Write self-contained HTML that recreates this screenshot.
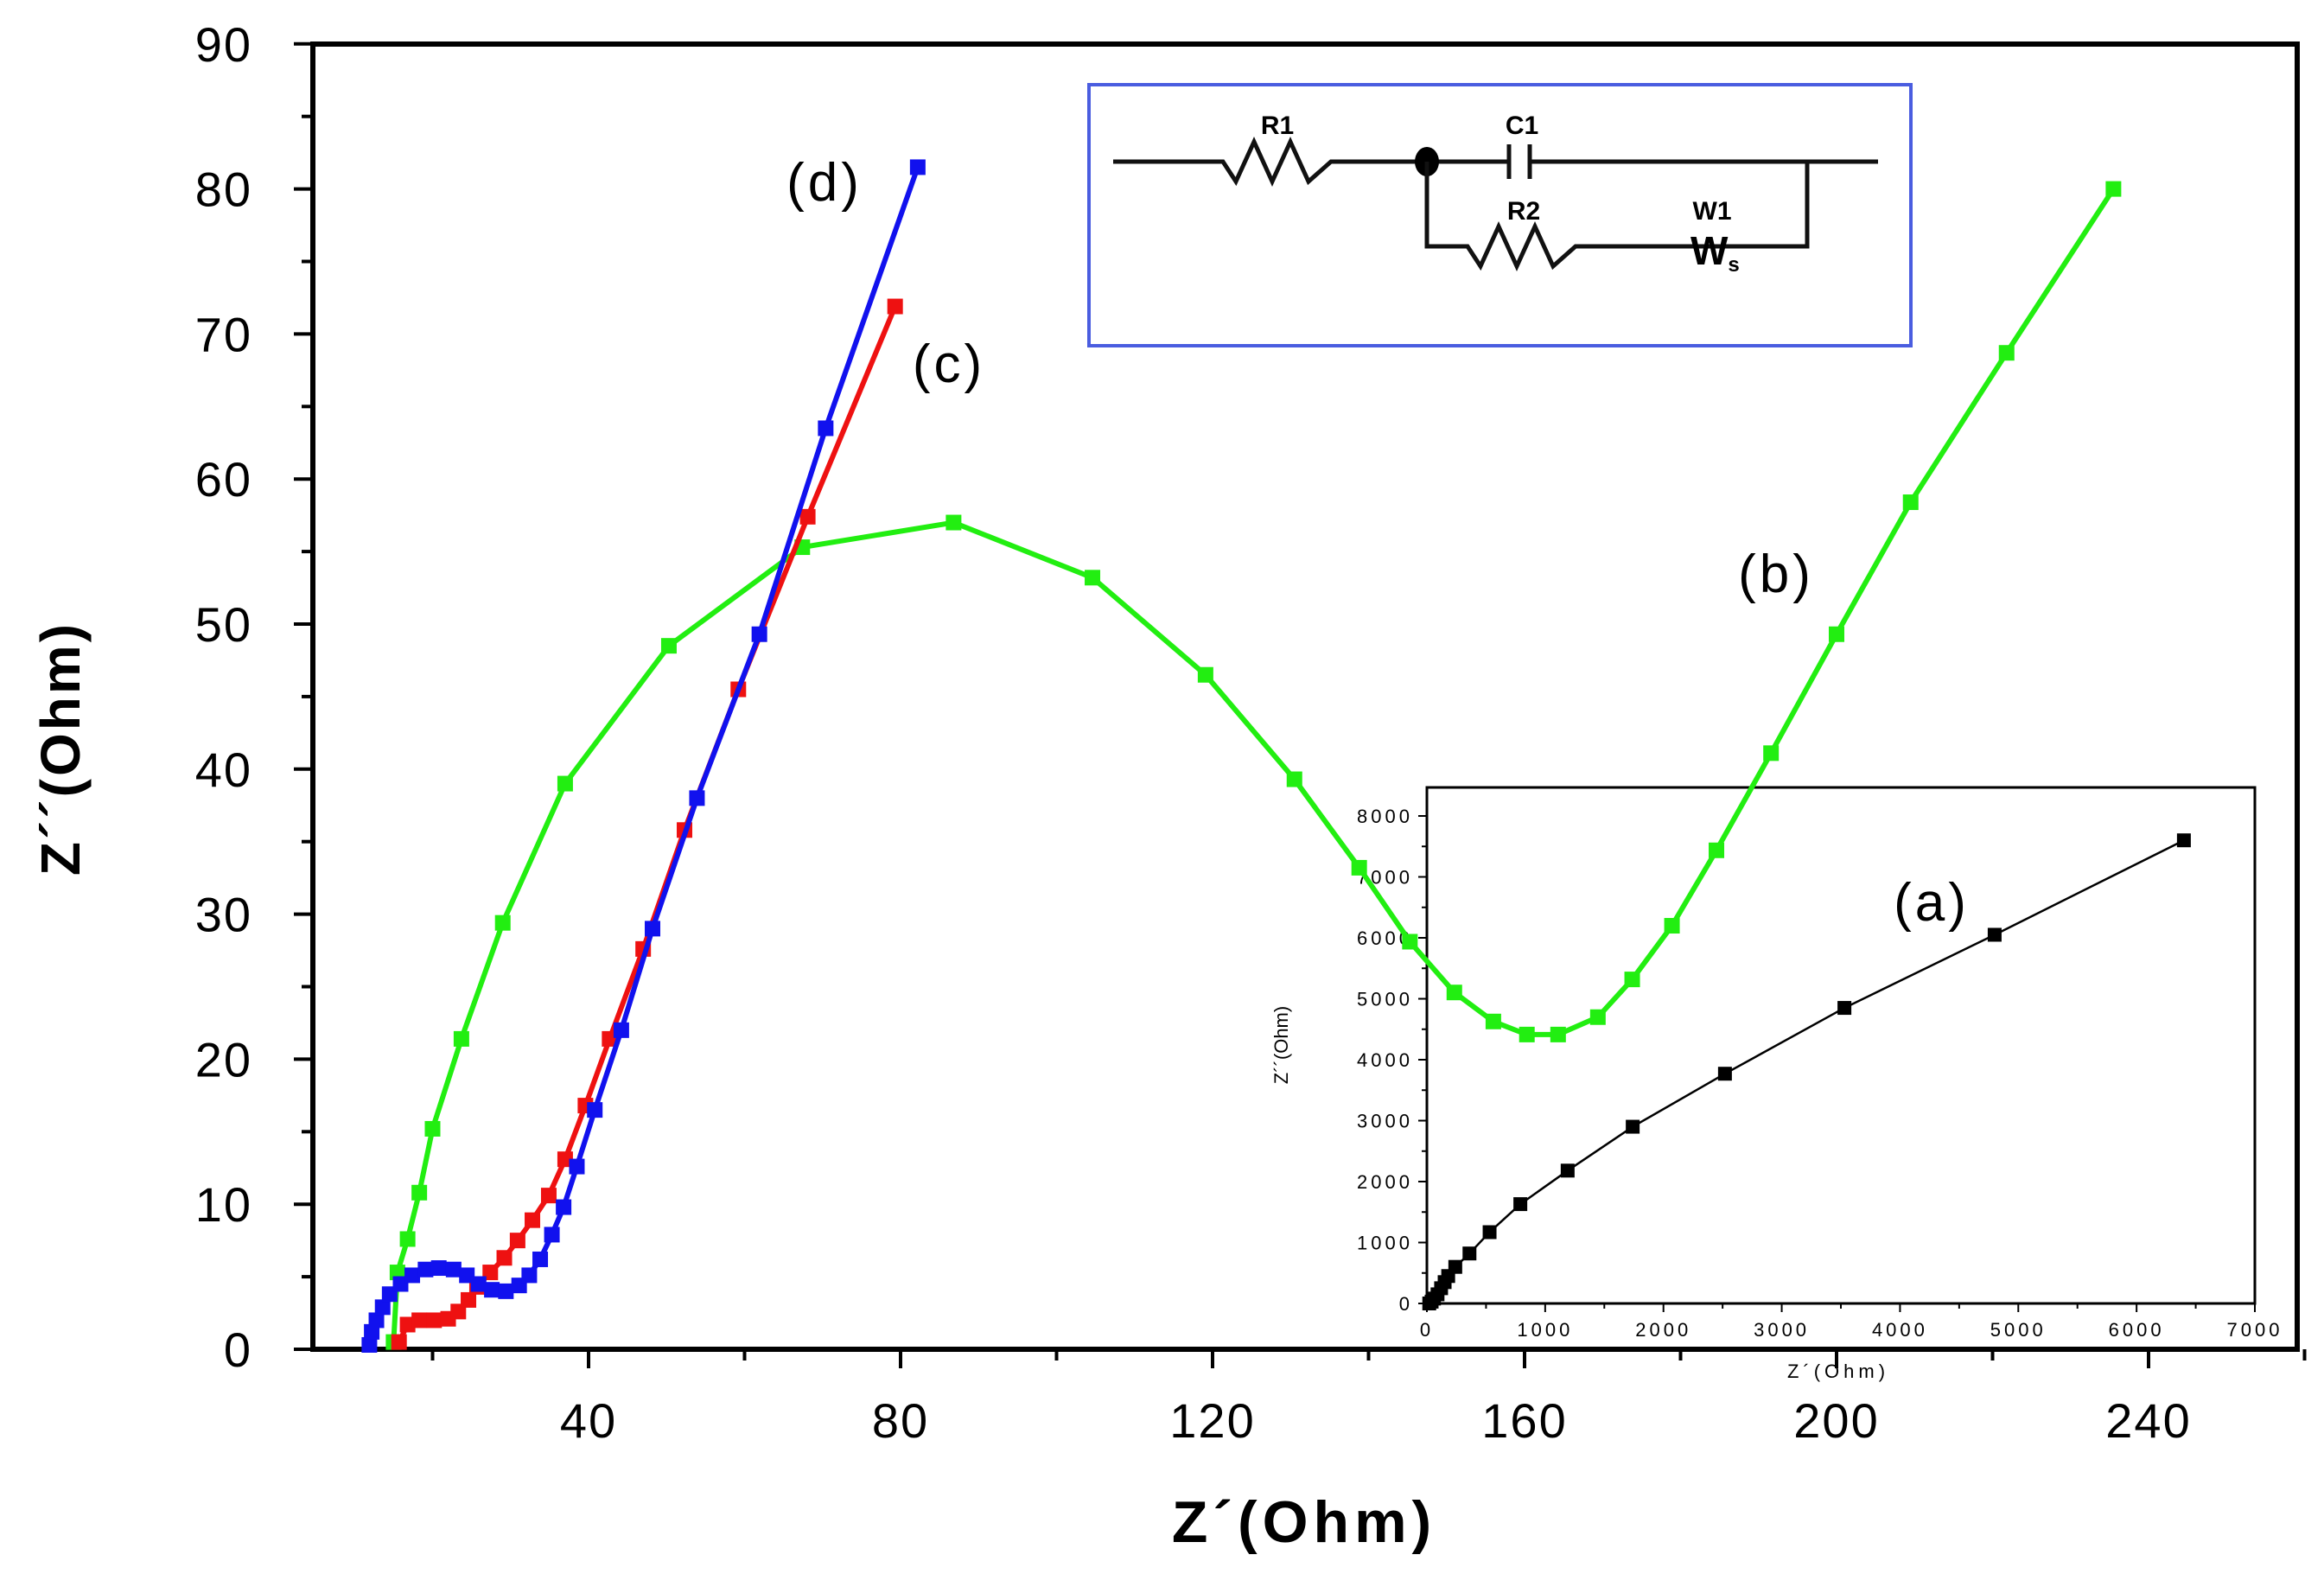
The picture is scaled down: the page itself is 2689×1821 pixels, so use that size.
<!DOCTYPE html>
<html><head><meta charset="utf-8"><style>
html,body{margin:0;padding:0;background:#fff;}
svg{display:block;font-family:"Liberation Sans",Arial,sans-serif;}
</style></head><body>
<svg id="chart" width="2689" height="1821" viewBox="0 0 2689 1821" xmlns="http://www.w3.org/2000/svg">
<rect width="2689" height="1821" fill="#fff"/>
<g id="main"></g>
<g id="circuit">
  <rect x="1260" y="98" width="951" height="302" fill="#fff" stroke="#4a5de0" stroke-width="4"/>
  <polyline points="1288,187 1415,187 1430,210 1451,164 1472,210 1493,164 1514,210 1540,187 1746,187" fill="none" stroke="#111" stroke-width="5"/>
  <line x1="1770" y1="187" x2="2173" y2="187" stroke="#111" stroke-width="5"/>
  <line x1="1746" y1="167" x2="1746" y2="207" stroke="#111" stroke-width="5"/>
  <line x1="1770" y1="167" x2="1770" y2="207" stroke="#111" stroke-width="5"/>
  <ellipse cx="1651" cy="187" rx="14" ry="17" fill="#000"/>
  <polyline points="1651,187 1651,285 1698,285 1713,308 1734,262 1755,308 1776,262 1797,308 1823,285 2091,285 2091,187" fill="none" stroke="#111" stroke-width="5"/>
  <text x="1478" y="155" font-size="30" font-weight="bold" text-anchor="middle">R1</text>
  <text x="1761" y="155" font-size="30" font-weight="bold" text-anchor="middle">C1</text>
  <text x="1763" y="254" font-size="30" font-weight="bold" text-anchor="middle">R2</text>
  <text x="1981" y="254" font-size="30" font-weight="bold" text-anchor="middle">W1</text>
  <text x="1956" y="306" font-size="46" font-weight="bold">W<tspan font-size="24" dy="8">s</tspan></text>
</g>
<g id="inset"></g>
<g id="overlay"></g>
</svg>
<script>
// Main chart data
const xTicks = [40, 80, 120, 160, 200, 240];
const yTicks = [0, 10, 20, 30, 40, 50, 60, 70, 80, 90];
const greenX = [15, 15.5, 16.8, 18.3, 20.0, 23.7, 29.0, 37.0, 50.3, 67.4, 86.8, 104.6, 119.1, 130.5, 138.8, 145.3, 151.0, 156, 160.3, 164.3, 169.4, 173.8, 178.9, 184.6, 191.6, 200, 209.5, 221.8, 235.5];
const greenY = [0.5, 5.3, 7.6, 10.8, 15.2, 21.4, 29.4, 39.0, 48.5, 55.3, 57.0, 53.2, 46.5, 39.3, 33.2, 28.1, 24.6, 22.6, 21.7, 21.7, 22.9, 25.5, 29.2, 34.4, 41.1, 49.3, 58.4, 68.7, 80.0];
const redX = [15.7, 16.8, 18.3, 20.2, 22.0, 23.3, 24.6, 25.7, 27.4, 29.2, 30.9, 32.8, 34.9, 37.0, 39.6, 42.7, 47.0, 52.3, 59.2, 68.1, 79.3];
const redY = [0.5, 1.7, 2.0, 2.0, 2.1, 2.6, 3.4, 4.3, 5.3, 6.3, 7.5, 8.9, 10.6, 13.1, 16.8, 21.4, 27.6, 35.8, 45.5, 57.4, 71.9];
const blueX = [11.9, 12.2, 12.8, 13.6, 14.5, 15.9, 17.4, 19.1, 20.8, 22.7, 24.4, 25.9, 27.6, 29.4, 31.1, 32.4, 33.8, 35.3, 36.8, 38.5, 40.8, 44.2, 48.2, 53.9, 61.9, 70.4, 82.2];
const blueY = [0.3, 1.2, 2.0, 2.9, 3.8, 4.5, 5.1, 5.5, 5.6, 5.5, 5.1, 4.5, 4.1, 4.0, 4.4, 5.1, 6.2, 7.9, 9.8, 12.6, 16.5, 22.0, 29.0, 38.0, 49.3, 63.5, 81.5];
// Inset data
const insetXTicks = [0, 1000, 2000, 3000, 4000, 5000, 6000, 7000];
const insetYTicks = [0, 1000, 2000, 3000, 4000, 5000, 6000, 7000, 8000];
const blackX = [20, 40, 60, 90, 120, 150, 180, 240, 360, 530, 790, 1190, 1740, 2520, 3530, 4800, 6400];
const blackY = [0, 30, 80, 150, 250, 350, 450, 600, 820, 1170, 1630, 2180, 2900, 3770, 4850, 6050, 7600];

const NS = "http://www.w3.org/2000/svg";
function mk(parent, tag, attrs, text) {
  const e = document.createElementNS(NS, tag);
  for (const k in attrs) e.setAttribute(k, attrs[k]);
  if (text !== undefined) e.textContent = text;
  parent.appendChild(e);
  return e;
}
const sx = v => 320 + v * 9.025;
const sy = v => 1561 - v * 16.78;
const IL = 1651, IT = 911, IR = 2609, IB = 1508;
const ix = v => IL + v * (IR - IL) / 7000;
const iy = v => 1508 - v * (1508 - 944) / 8000;

const main = document.getElementById('main');
const L = 362, T = 51, R = 2658, B = 1561;
const frame = mk(main, 'rect', {x: L, y: T, width: R - L, height: B - T, fill: 'none', stroke: '#000', 'stroke-width': 6});


for (let v = 0; v <= 90; v += 5) {
  const major = v % 10 === 0;
  mk(main, 'line', {x1: L - (major ? 22 : 13), y1: sy(v), x2: L, y2: sy(v), stroke: '#000', 'stroke-width': 4});
}
yTicks.forEach(v => {
  const t = mk(main, 'text', {x: 292, y: sy(v) + 20, 'font-size': 56, 'text-anchor': 'end', 'letter-spacing': 2}, String(v));
  
  
});
for (let v = 20; v <= 260; v += 20) {
  const major = v % 40 === 0;
  mk(main, 'line', {x1: sx(v), y1: B, x2: sx(v), y2: B + (major ? 22 : 13), stroke: '#000', 'stroke-width': 4});
}
xTicks.forEach(v => {
  const t = mk(main, 'text', {x: sx(v), y: 1663, 'font-size': 56, 'text-anchor': 'middle', 'letter-spacing': 2}, String(v));
  
  
});
const xt = mk(main, 'text', {x: 1509, y: 1784, 'font-size': 68, 'font-weight': 'bold', 'text-anchor': 'middle', 'letter-spacing': 6}, 'Z´(Ohm)');


const yt = mk(main, 'text', {x: 0, y: 0, 'font-size': 64, 'font-weight': 'bold', 'text-anchor': 'middle', transform: 'translate(92,866) rotate(-90)', 'letter-spacing': 3}, 'Z´´(Ohm)');



// Inset
const inset = document.getElementById('inset');
const ir = mk(inset, 'rect', {x: IL, y: IT, width: IR - IL, height: IB - IT, fill: 'none', stroke: '#000', 'stroke-width': 3});


for (let v = 0; v <= 8000; v += 500) {
  mk(inset, 'line', {x1: IL - (v % 1000 ? 6 : 10), y1: iy(v), x2: IL, y2: iy(v), stroke: '#000', 'stroke-width': 2});
}
insetYTicks.forEach(v => {
  const t = mk(inset, 'text', {x: IL - 16, y: iy(v) + 8, 'font-size': 22, 'text-anchor': 'end', 'letter-spacing': 4}, String(v));
  
  
});
for (let v = 0; v <= 7000; v += 500) {
  mk(inset, 'line', {x1: ix(v), y1: IB, x2: ix(v), y2: IB + (v % 1000 ? 6 : 10), stroke: '#000', 'stroke-width': 2});
}
insetXTicks.forEach(v => {
  const t = mk(inset, 'text', {x: ix(v), y: IB + 38, 'font-size': 22, 'text-anchor': 'middle', 'letter-spacing': 4}, String(v));
  
  
});
const ixt = mk(inset, 'text', {x: 2127, y: 1594, 'font-size': 22, 'text-anchor': 'middle', 'letter-spacing': 5}, "Z´(Ohm)");


const iyt = mk(inset, 'text', {x: 0, y: 0, 'font-size': 22, 'text-anchor': 'middle', transform: 'translate(1490,1209) rotate(-90)'}, "Z´´(Ohm)");


const bl = mk(inset, 'polyline', {points: blackX.map((x, i) => ix(x) + ',' + iy(blackY[i])).join(' '), fill: 'none', stroke: '#000', 'stroke-width': 2.5});


blackX.forEach((x, i) => {
  const r = mk(inset, 'rect', {x: ix(x) - 8, y: iy(blackY[i]) - 8, width: 16, height: 16, fill: '#000'});
  
  
});

// Main series
const ov = document.getElementById('overlay');
function series(xs, ys, color, name) {
  const p = mk(ov, 'polyline', {points: xs.map((x, i) => sx(x) + ',' + sy(ys[i])).join(' '), fill: 'none', stroke: color, 'stroke-width': 6, 'stroke-linejoin': 'round'});
  
  
  xs.forEach((x, i) => {
    const r = mk(ov, 'rect', {x: sx(x) - 9, y: sy(ys[i]) - 9, width: 18, height: 18, fill: color});
    
    
  });
}
series(greenX, greenY, '#22ee11', 'series-b');
series(redX, redY, '#ee1111', 'series-c');
series(blueX, blueY, '#1111ee', 'series-d');

const labels = [['(d)', 954, 232], ['(c)', 1098, 442], ['(b)', 2055, 685], ['(a)', 2235, 1065]];
labels.forEach(l => {
  const t = mk(ov, 'text', {x: l[1], y: l[2], 'font-size': 62, 'text-anchor': 'middle', 'letter-spacing': 4}, l[0]);
  
  
});
</script>
</body></html>
